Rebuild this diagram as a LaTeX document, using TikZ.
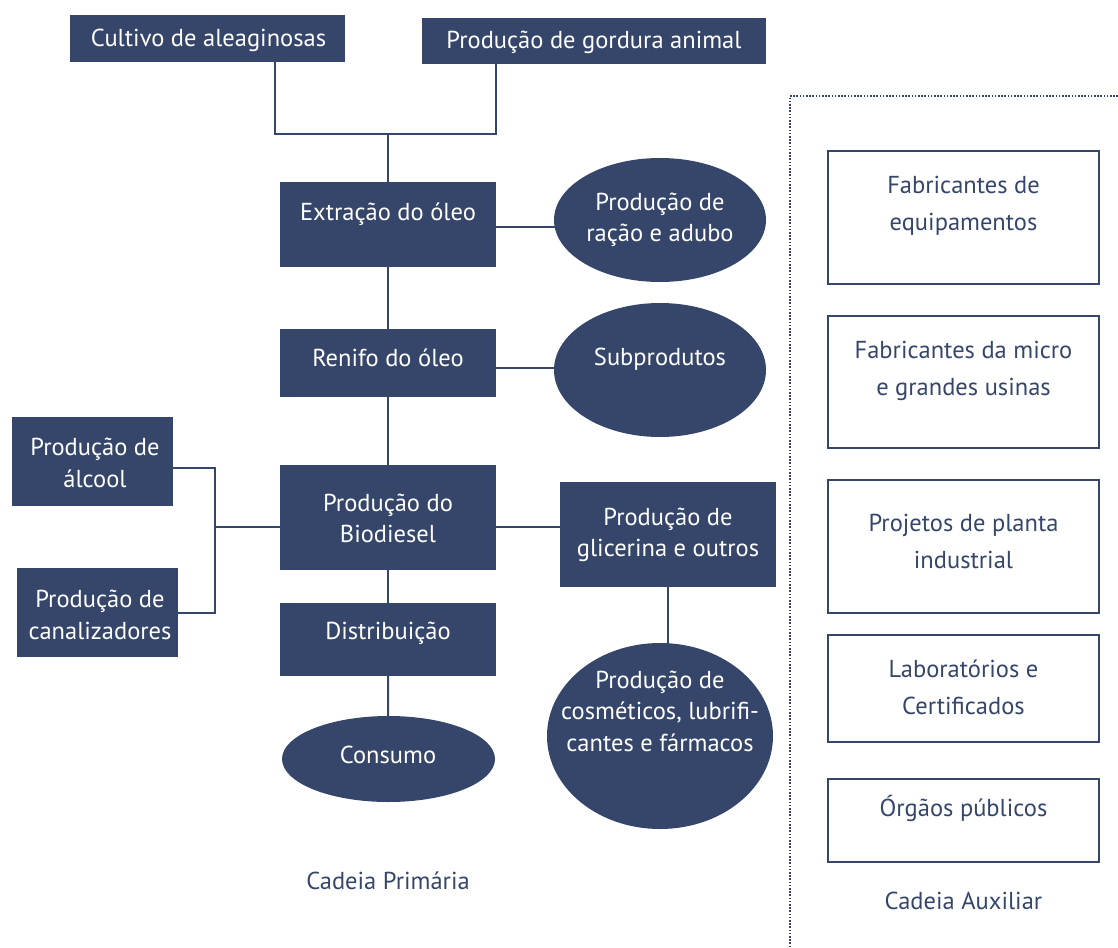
\documentclass[tikz,border=0pt]{standalone}
\usepackage{fontspec}
\setmainfont{PT Sans}
\usetikzlibrary{shapes.geometric,backgrounds}
\definecolor{navy}{RGB}{54,70,106}
\begin{document}
\begin{tikzpicture}[x=1pt,y=-1pt,
  darkbox/.style={rectangle,fill=navy,draw=none,inner sep=0pt,minimum width=#1},
  darkoval/.style={ellipse,fill=navy,draw=none,inner sep=0pt},
  auxbox/.style={rectangle,draw=navy,line width=2.5pt,fill=white,inner sep=0pt,minimum width=271pt},
  link/.style={draw=navy,line width=2pt},
  dotline/.style={draw=navy,line width=1.6pt,dash pattern=on 1.6pt off 1.6pt},
  wtxt/.style={text=white,font=\fontsize{24.5}{31.5}\selectfont,align=center,inner sep=0pt,anchor=center},
  ntxt/.style={text=navy,font=\fontsize{24.5}{37}\selectfont,align=center,inner sep=0pt,anchor=center}]
\useasboundingbox (0,0) rectangle (1118,947);

% primary chain: dark boxes
\node[darkbox=275pt,minimum height=47pt] (cult) at (207.5,38.5) {};
\node[darkbox=344pt,minimum height=46pt] (gord) at (594,41) {};
\node[darkbox=216pt,minimum height=85pt] (extr) at (388,224.5) {};
\node[darkbox=216pt,minimum height=68pt] (renifo) at (388,363) {};
\node[darkbox=216pt,minimum height=105pt] (bio) at (388,517.5) {};
\node[darkbox=216pt,minimum height=73pt] (dist) at (388,639.5) {};
\node[darkbox=161pt,minimum height=89pt] (alc) at (92.5,461.5) {};
\node[darkbox=161pt,minimum height=89pt] (can) at (97.5,612.5) {};
\node[darkbox=216pt,minimum height=105pt] (glic) at (668,534.5) {};

% by-products: dark ovals
\node[darkoval,minimum width=212pt,minimum height=124pt] (racao) at (660,220) {};
\node[darkoval,minimum width=212pt,minimum height=134pt] (subp) at (660,370) {};
\node[darkoval,minimum width=213pt,minimum height=86pt] (cons) at (388.5,759) {};
\node[darkoval,minimum width=226pt,minimum height=186pt] (cosm) at (660,736) {};

% auxiliary chain: outlined boxes
\node[auxbox,minimum height=133pt] (aux1) at (963.5,217.5) {};
\node[auxbox,minimum height=132pt] (aux2) at (963.5,382) {};
\node[auxbox,minimum height=133pt] (aux3) at (963.5,546.5) {};
\node[auxbox,minimum height=107pt] (aux4) at (963.5,688.5) {};
\node[auxbox,minimum height=83pt] (aux5) at (963.5,820.5) {};

% junction points
\coordinate (jtop) at (388,134);
\coordinate (jleft) at (215,527);
\coordinate (dcorner) at (790,96);
\coordinate (dright) at (1118,96);
\coordinate (dbottom) at (790,947);

\begin{scope}[on background layer]
  \draw[link] ([xshift=67.5pt]cult.south) |- (jtop) -| ([xshift=-98pt]gord.south);
  \draw[link] (jtop) -- (extr.north);
  \draw[link] ([yshift=-2.5pt]extr.east) -- ([yshift=-2.5pt]extr.east -| racao.center);
  \draw[link] (extr.south) -- (renifo.north);
  \draw[link] ([yshift=-5pt]renifo.east) -- ([yshift=-5pt]renifo.east -| subp.center);
  \draw[link] (renifo.south) -- (bio.north);
  \draw[link] (bio.south) -- (dist.north);
  \draw[link] (dist.south) -- (cons.center);
  \draw[link] ([yshift=-6pt]alc.east) -| (jleft) |- (can.east);
  \draw[link] (jleft) -- (jleft -| bio.west);
  \draw[link] (jleft -| bio.east) -- (jleft -| glic.west);
  \draw[link] (glic.south) -- (glic.south |- cosm.center);
\end{scope}

\draw[dotline] (dright) -- (dcorner) -- (dbottom);

% labels
\node[wtxt] (tcult) at (208.5,40) {Cultivo de aleaginosas};
\node[wtxt] (tgord) at (594,42) {Produção de gordura animal};
\node[wtxt] (textr) at (388,214) {Extração do óleo};
\node[wtxt] (tracao) at (660,220) {Produção de\\ração e adubo};
\node[wtxt] (trenifo) at (388,358) {Renifo do óleo};
\node[wtxt] (tsubp) at (660,359) {Subprodutos};
\node[wtxt] (talc) at (95,463) {Produção de\\álcool};
\node[wtxt] (tcan) at (100,615) {Produção de\\canalizadores};
\node[wtxt] (tbio) at (388,518.5) {Produção do\\Biodiesel};
\node[wtxt] (tglic) at (668,535) {Produção de\\glicerina e outros};
\node[wtxt] (tdist) at (388,633) {Distribuição};
\node[wtxt] (tcons) at (388,755) {Consumo};
\node[wtxt] (tcosm) at (660,711) {Produção de\\cosméticos, lubrifi-\\cantes e fármacos};
\node[ntxt] (tprim) at (388,881) {Cadeia Primária};

\node[ntxt] (taux1) at (963.5,205.5) {Fabricantes de\\equipamentos};
\node[ntxt] (taux2) at (963.5,370.5) {Fabricantes da micro\\e grandes usinas};
\node[ntxt] (taux3) at (963.5,541) {Projetos de planta\\industrial};
\node[ntxt] (taux4) at (963.5,687.5) {Laboratórios e\\Certificados};
\node[ntxt] (taux5) at (963.5,808) {Órgãos públicos};
\node[ntxt] (taux) at (963.5,901) {Cadeia Auxiliar};
\end{tikzpicture}
\end{document}
